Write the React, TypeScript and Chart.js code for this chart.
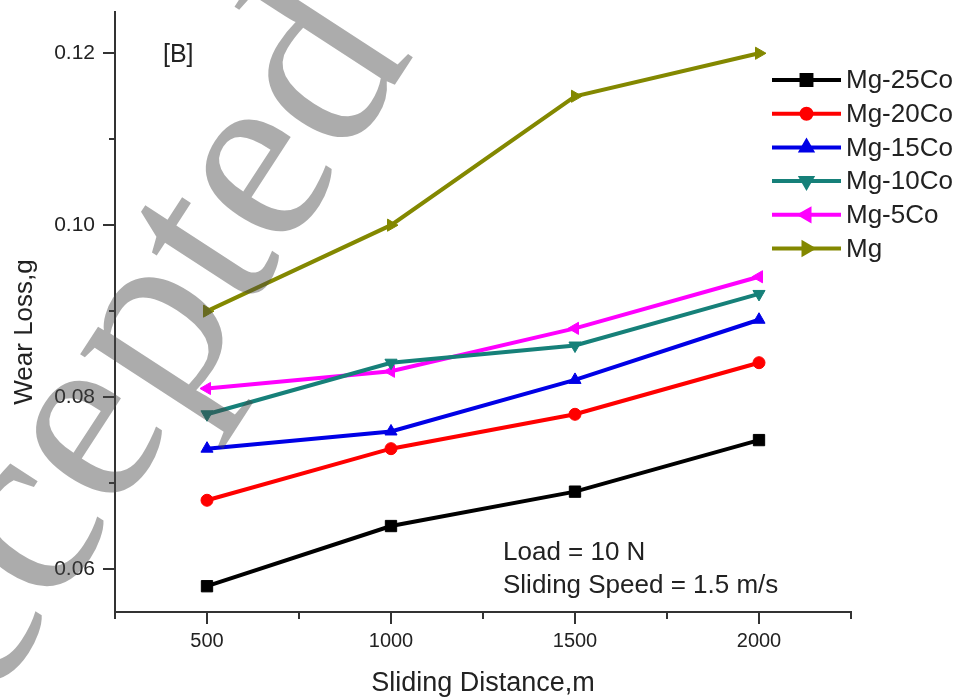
import React, { useEffect, useRef } from "react";
import { Chart, registerables } from "chart.js";
import { drawPoint } from "chart.js/helpers";

Chart.register(...registerables);

// ---- data ----
const distances = [500, 1000, 1500, 2000];
const seriesNames = ["Mg-25Co", "Mg-20Co", "Mg-15Co", "Mg-10Co", "Mg-5Co", "Mg"];
const mg25Co = [0.058, 0.065, 0.069, 0.075];
const mg20Co = [0.068, 0.074, 0.078, 0.084];
const mg15Co = [0.074, 0.076, 0.082, 0.089];
const mg10Co = [0.078, 0.084, 0.086, 0.092];
const mg5Co = [0.081, 0.083, 0.088, 0.094];
const mgPure = [0.09, 0.1, 0.115, 0.12];
const xTickValues = [250, 500, 750, 1000, 1250, 1500, 1750, 2000, 2250];
const yTickValues = [0.06, 0.07, 0.08, 0.09, 0.1, 0.11, 0.12];
const panelLabel = "[B]";
const conditionLines = ["Load = 10 N", "Sliding Speed = 1.5 m/s"];
const xTitle = "Sliding Distance,m";
const yTitle = "Wear Loss,g";
const watermark = "Accepted";

// ---- styles ----
const seriesValues = [mg25Co, mg20Co, mg15Co, mg10Co, mg5Co, mgPure];
const seriesColors = ["#000000", "#ff0000", "#0000e6", "#168079", "#ff00ff", "#838800"];
const seriesStyles = ["rect", "circle", "triangle", "triangle", "triangle", "triangle"];
const seriesRotations = [0, 0, 0, 180, 270, 90];
const seriesRadii = [8, 6, 7, 7, 7, 7];

const SANS = 'Arial, "Liberation Sans", Helvetica, sans-serif';
const TEXT = "#222222";

const isMajorX = (v: number) => Math.round(v) % 500 === 0;
const isMajorY = (v: number) => Math.round(v * 100) % 2 === 0;

const decorPlugin = {
  id: "decor",
  beforeDatasetsDraw(chart: any) {
    const ctx = chart.ctx;
    const xs = chart.scales.x;
    const ys = chart.scales.y;
    ctx.save();
    ctx.strokeStyle = "#333333";
    ctx.lineWidth = 2;
    ctx.beginPath();
    xTickValues.forEach((v) => {
      const px = Math.round(xs.getPixelForValue(v));
      const len = isMajorX(v) ? 12 : 7;
      ctx.moveTo(px, xs.top);
      ctx.lineTo(px, xs.top + len);
    });
    yTickValues.forEach((v) => {
      const py = Math.round(ys.getPixelForValue(v));
      const len = isMajorY(v) ? 12 : 6;
      ctx.moveTo(ys.right, py);
      ctx.lineTo(ys.right - len, py);
    });
    ctx.stroke();

    // y-axis title
    ctx.save();
    ctx.translate(25, 332);
    ctx.rotate(-Math.PI / 2);
    ctx.fillStyle = TEXT;
    ctx.font = `26px ${SANS}`;
    ctx.textAlign = "center";
    ctx.textBaseline = "middle";
    ctx.fillText(yTitle, 0, 0);
    ctx.restore();
    ctx.restore();
  },
  afterDraw(chart: any) {
    const ctx = chart.ctx;
    ctx.save();
    // panel label
    ctx.fillStyle = TEXT;
    ctx.font = `25px ${SANS}`;
    ctx.textBaseline = "middle";
    ctx.textAlign = "left";
    ctx.fillText(panelLabel, 163, 55);

    // conditions
    ctx.font = `26px ${SANS}`;
    conditionLines.forEach((t, i) => {
      ctx.fillText(t, 503, 553 + i * 33);
    });

    // legend
    const x0 = 772;
    const x1 = 841;
    chart.data.datasets.forEach((ds: any, i: number) => {
      const y = 80 + i * 33.7;
      ctx.strokeStyle = ds.borderColor;
      ctx.lineWidth = 4;
      ctx.beginPath();
      ctx.moveTo(x0, y);
      ctx.lineTo(x1, y);
      ctx.stroke();
      ctx.fillStyle = ds.borderColor;
      drawPoint(
        ctx,
        {
          pointStyle: ds.pointStyle,
          rotation: ds.pointRotation,
          radius: ds.pointRadius - 1,
          borderWidth: 1,
        } as any,
        (x0 + x1) / 2,
        y
      );
      ctx.fillStyle = TEXT;
      ctx.font = `26px ${SANS}`;
      ctx.textBaseline = "middle";
      ctx.fillText(ds.label, 846, y + 1);
    });

    // watermark
    ctx.translate(-110, 862);
    ctx.rotate((-57 * Math.PI) / 180);
    ctx.font = '255px "Liberation Serif", "DejaVu Serif", serif';
    ctx.fillStyle = "rgba(70,70,70,0.45)";
    ctx.textBaseline = "alphabetic";
    ctx.textAlign = "left";
    ctx.fillText(watermark, 0, 0);
    ctx.restore();
  },
};

export default function App() {
  const canvasRef = useRef<HTMLCanvasElement | null>(null);

  useEffect(() => {
    const canvas = canvasRef.current;
    if (!canvas) return;
    const datasets = seriesNames.map((name, i) => ({
      label: name,
      data: distances.map((d, j) => ({ x: d, y: seriesValues[i][j] })),
      borderColor: seriesColors[i],
      backgroundColor: seriesColors[i],
      pointBackgroundColor: seriesColors[i],
      pointBorderColor: seriesColors[i],
      borderWidth: 4,
      pointStyle: seriesStyles[i],
      pointRotation: seriesRotations[i],
      pointRadius: seriesRadii[i],
      pointBorderWidth: 1,
      tension: 0,
      fill: false,
    }));

    const chart = new Chart(canvas, {
      type: "line",
      data: { datasets },
      options: {
        responsive: false,
        animation: false,
        events: [],
        layout: { padding: { top: 12, right: 113, bottom: 0, left: 0 } },
        plugins: {
          legend: { display: false },
          tooltip: { enabled: false },
          title: { display: false },
        },
        scales: {
          x: {
            type: "linear",
            min: 250,
            max: 2250,
            afterFit: (s: any) => {
              s.height = 86;
              s.paddingLeft = 0;
              s.paddingRight = 0;
            },
            afterBuildTicks: (s: any) => {
              s.ticks = xTickValues.map((v) => ({ value: v }));
            },
            grid: { display: false, drawTicks: false },
            border: { display: true, color: "#333333", width: 2 },
            ticks: {
              padding: 19,
              color: TEXT,
              font: { family: SANS, size: 20, lineHeight: 1 },
              maxRotation: 0,
              autoSkip: false,
              callback: (v: any) => (isMajorX(Number(v)) ? String(v) : ""),
            },
            title: {
              display: true,
              text: xTitle,
              color: TEXT,
              font: { family: SANS, size: 27, lineHeight: 1 },
              padding: { top: 0, bottom: 1 },
            },
          },
          y: {
            type: "linear",
            min: 0.055,
            max: 0.1248,
            afterFit: (s: any) => {
              s.width = 115;
              s.paddingTop = 0;
              s.paddingBottom = 0;
            },
            afterBuildTicks: (s: any) => {
              s.ticks = yTickValues.map((v) => ({ value: v }));
            },
            grid: { display: false, drawTicks: false },
            border: { display: true, color: "#333333", width: 2 },
            ticks: {
              padding: 20,
              color: TEXT,
              font: { family: SANS, size: 21, lineHeight: 1 },
              autoSkip: false,
              callback: (v: any) => (isMajorY(Number(v)) ? Number(v).toFixed(2) : ""),
            },
            title: { display: false },
          },
        },
      },
      plugins: [decorPlugin],
    } as any);

    return () => {
      chart.destroy();
    };
  }, []);

  return (
    <div
      style={{
        position: "fixed",
        left: 0,
        top: 0,
        width: 964,
        height: 698,
        background: "#ffffff",
      }}
    >
      <canvas
        ref={canvasRef}
        width={964}
        height={698}
        style={{ width: 964, height: 698, display: "block" }}
      />
    </div>
  );
}
